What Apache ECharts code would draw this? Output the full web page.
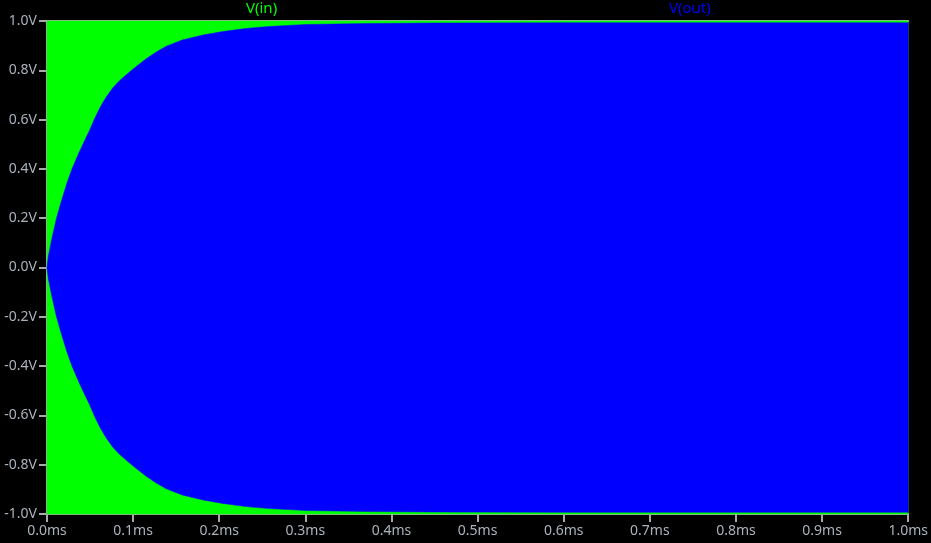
<!DOCTYPE html>
<html>
<head>
<meta charset="utf-8">
<script src="https://cdn.jsdelivr.net/npm/echarts@6/dist/echarts.min.js"></script>
<style>
html,body{margin:0;padding:0;background:#000;}
#chart{width:931px;height:543px;}
</style>
</head>
<body>
<div id="chart"></div>
<script>
// Time axis (ms) and tick labels
var xTicks = [0.0, 0.1, 0.2, 0.3, 0.4, 0.5, 0.6, 0.7, 0.8, 0.9, 1.0];
var yTicks = [-1.0, -0.8, -0.6, -0.4, -0.2, 0.0, 0.2, 0.4, 0.6, 0.8, 1.0];

// V(in): constant-amplitude sine, peaks at +/-1 V (drawn as a solid band)
var vinTimes = [0, 1.0];
var vinPeak = [1.0, 1.0];

// V(out): envelope (peak amplitude)
var voutTimes = [0, 0.0016, 0.0055, 0.011, 0.017, 0.023, 0.029, 0.037, 0.043, 0.0495, 0.0553, 0.0619, 0.0688, 0.0765, 0.0842, 0.0958, 0.1054, 0.1152, 0.1268, 0.138, 0.157, 0.181, 0.204, 0.231, 0.258, 0.301, 0.372, 0.45, 0.6, 0.8, 1.0];
var voutPeak = [0, 0.047, 0.115, 0.200, 0.273, 0.341, 0.400, 0.465, 0.510, 0.557, 0.604, 0.651, 0.692, 0.729, 0.758, 0.793, 0.820, 0.847, 0.874, 0.897, 0.923, 0.943, 0.957, 0.970, 0.978, 0.986, 0.990, 0.992, 0.993, 0.993, 0.993];

var seriesNames = ['V(in)', 'V(out)'];

var GREEN = '#00ff00', BLUE = '#0000ff', AXIS = '#a8a8a8', TEXT = '#aab3bc';

// Band between +peak and -peak, drawn through the axes' scales
function bandSeries(name, times, peaks, color, z) {
  return {
    name: name, type: 'custom', z: z, silent: true,
    data: times.map(function (t, i) { return [t, peaks[i]]; }),
    renderItem: function (params, api) {
      if (params.dataIndex !== 0) return null;
      var pts = [];
      var i;
      for (i = 0; i < times.length; i++) pts.push(api.coord([times[i], peaks[i]]));
      for (i = times.length - 1; i >= 0; i--) pts.push(api.coord([times[i], -peaks[i]]));
      return {type: 'polygon', shape: {points: pts}, style: {fill: color, stroke: color, lineWidth: 0.5}};
    },
    encode: {x: 0, y: 1}
  };
}

var chart = echarts.init(document.getElementById('chart'), null, {renderer: 'canvas'});
chart.setOption({
  backgroundColor: '#000000',
  animation: false,
  grid: {left: 47, right: 21, top: 21, bottom: 29, containLabel: false},
  graphic: [
    {type: 'text', left: 246, top: 1, style: {text: seriesNames[0], fill: GREEN, font: '15px "Noto Sans"'}},
    {type: 'text', left: 669, top: 1, style: {text: seriesNames[1], fill: BLUE, font: '15px "Noto Sans"'}}
  ],
  xAxis: [{
    type: 'value', min: 0, max: 1.0, interval: 0.1,
    axisLine: {show: true, onZero: false, lineStyle: {color: AXIS, width: 2}},
    axisTick: {show: true, inside: false, length: 8, lineStyle: {color: AXIS, width: 2}},
    axisLabel: {color: TEXT, fontSize: 14, fontFamily: 'Noto Sans', margin: 10,
      formatter: function (v) { return v.toFixed(1) + 'ms'; }},
    splitLine: {show: false}
  }, {
    type: 'value', position: 'top', min: 0, max: 1.0,
    axisLine: {show: true, onZero: false, lineStyle: {color: AXIS, width: 2}},
    axisTick: {show: false}, axisLabel: {show: false}, splitLine: {show: false}
  }],
  yAxis: {
    type: 'value', min: -1.0, max: 1.0, interval: 0.2,
    axisLine: {show: true, onZero: false, lineStyle: {color: AXIS, width: 2}},
    axisTick: {show: true, inside: false, length: 8, lineStyle: {color: AXIS, width: 2}},
    axisLabel: {color: TEXT, fontSize: 14, fontFamily: 'Noto Sans', margin: 10,
      formatter: function (v) { return v.toFixed(1) + 'V'; }},
    splitLine: {show: false}
  },
  series: [
    bandSeries(seriesNames[0], vinTimes, vinPeak, GREEN, 2),
    bandSeries(seriesNames[1], voutTimes, voutPeak, BLUE, 3)
  ]
});
</script>
</body>
</html>
